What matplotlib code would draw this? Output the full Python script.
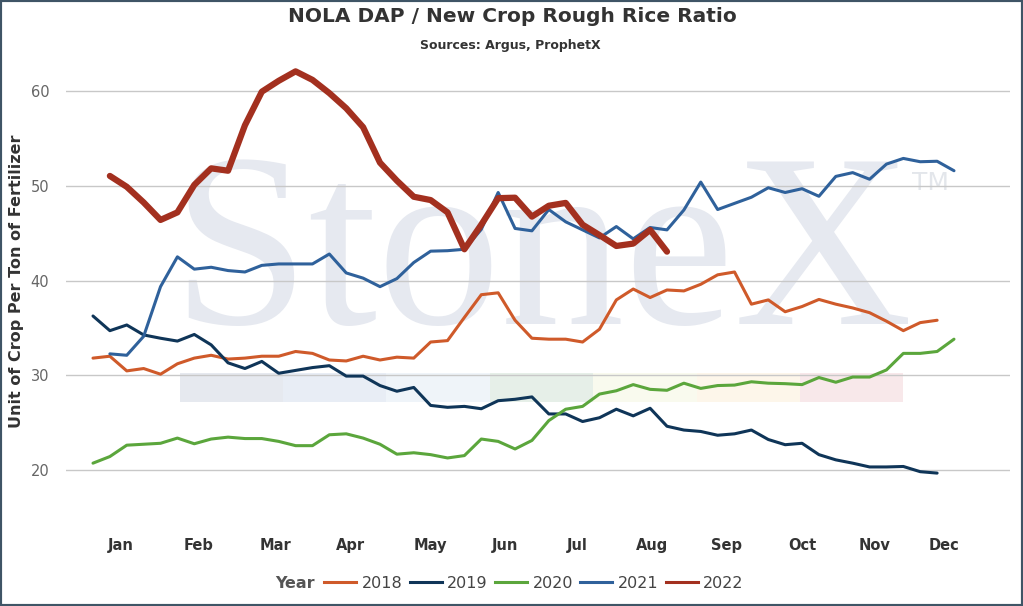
import matplotlib
matplotlib.use("Agg")
import matplotlib.pyplot as plt
from matplotlib.patches import Rectangle
from matplotlib.lines import Line2D

# weekly ratio (week numbers 1..52)
weeks_2018 = list(range(1, 52))
ratio_2018 = [31.8, 32.0, 30.45, 30.7, 30.1, 31.2, 31.8, 32.1, 31.7, 31.8,
              32.0, 32.0, 32.5, 32.3, 31.6, 31.5, 32.0, 31.6, 31.9, 31.8,
              33.5, 33.65, 36.1, 38.5, 38.7, 35.8, 33.9, 33.8, 33.8, 33.5,
              34.85, 37.95, 39.1, 38.2, 39.0, 38.9, 39.6, 40.6, 40.9, 37.5,
              37.95, 36.7, 37.25, 38.0, 37.5, 37.1, 36.6, 35.7, 34.7, 35.55, 35.8]

weeks_2019 = list(range(1, 52))
ratio_2019 = [36.25, 34.7, 35.3, 34.25, 33.9, 33.6, 34.3, 33.2, 31.3, 30.7,
              31.45, 30.2, 30.5, 30.8, 31.0, 29.9, 29.9, 28.9, 28.3, 28.7,
              26.8, 26.6, 26.7, 26.45, 27.3, 27.45, 27.7, 25.9, 25.9, 25.1,
              25.5, 26.4, 25.7, 26.5, 24.6, 24.2, 24.05, 23.65, 23.8, 24.2,
              23.2, 22.65, 22.8, 21.6, 21.05, 20.7, 20.3, 20.3, 20.35, 19.8, 19.65]

weeks_2020 = list(range(1, 53))
ratio_2020 = [20.7, 21.4, 22.6, 22.7, 22.8, 23.35, 22.75, 23.25, 23.45, 23.3,
              23.3, 23.0, 22.55, 22.55, 23.7, 23.8, 23.35, 22.7, 21.65, 21.8,
              21.6, 21.25, 21.5, 23.25, 23.0, 22.2, 23.1, 25.2, 26.4, 26.7,
              28.0, 28.35, 29.0, 28.5, 28.4, 29.15, 28.6, 28.9, 28.95, 29.3,
              29.15, 29.1, 29.0, 29.75, 29.25, 29.8, 29.8, 30.55, 32.3, 32.3,
              32.5, 33.8]

weeks_2021 = list(range(2, 53))
ratio_2021 = [32.25, 32.1, 34.1, 39.35, 42.5, 41.2, 41.4, 41.05, 40.9, 41.6,
              41.75, 41.75, 41.75, 42.8, 40.8, 40.25, 39.35, 40.2, 41.9, 43.1,
              43.15, 43.3, 45.4, 49.3, 45.5, 45.25, 47.5, 46.2, 45.35, 44.5,
              45.7, 44.4, 45.6, 45.35, 47.45, 50.4, 47.5, 48.15, 48.8, 49.8,
              49.3, 49.7, 48.9, 51.0, 51.4, 50.7, 52.3, 52.9, 52.55, 52.6, 51.6]

weeks_2022 = list(range(2, 36))
ratio_2022 = [51.05, 49.9, 48.25, 46.4, 47.2, 50.1, 51.85, 51.6, 56.4, 59.95,
              61.1, 62.1, 61.2, 59.8, 58.2, 56.2, 52.45, 50.55, 48.85, 48.5,
              47.2, 43.3, 45.9, 48.7, 48.75, 46.75, 47.9, 48.2, 45.9, 44.8,
              43.65, 43.9, 45.35, 43.05]

months = ["Jan", "Feb", "Mar", "Apr", "May", "Jun",
          "Jul", "Aug", "Sep", "Oct", "Nov", "Dec"]
month_pos = [2.66, 7.28, 11.84, 16.28, 20.96, 25.4,
             29.7, 34.1, 38.5, 43.0, 47.3, 51.4]
y_ticks = [20, 30, 40, 50, 60]

series = [
    ("2018", weeks_2018, ratio_2018, "#cf5a2a", 2.2),
    ("2019", weeks_2019, ratio_2019, "#0f3558", 2.2),
    ("2020", weeks_2020, ratio_2020, "#5ba63c", 2.2),
    ("2021", weeks_2021, ratio_2021, "#2f619b", 2.2),
    ("2022", weeks_2022, ratio_2022, "#a3301f", 4.5),
]

fig = plt.figure(figsize=(10.23, 6.06), dpi=100)
ax = fig.add_axes([0.0645, 0.142, 0.9225, 0.759])

# StoneX watermark
ax.text(542 / 1023, 1 - 324 / 606, "StoneX", transform=fig.transFigure,
        ha="center", va="baseline", fontsize=178, family="Liberation Serif",
        color="#e6e9f0", zorder=0.1)
ax.text(930 / 1023, 1 - 183 / 606, "TM", transform=fig.transFigure,
        ha="center", va="center", fontsize=18, color="#e3e6eb", zorder=0.1)
bar_cols = ["#e6e9ef", "#e8edf5", "#eff4f9", "#e6efe8", "#f9faee", "#fdf6ea", "#f8e8ea"]
for i, c in enumerate(bar_cols):
    ax.add_patch(Rectangle(((179.6 + i * 103.4) / 1023, 1 - 402 / 606), 103.4 / 1023, 29 / 606,
                           transform=fig.transFigure, facecolor=c, edgecolor="none", zorder=0.2))

handles = []
for name, wk, vals, col, lw in series:
    ax.plot(wk, vals, color=col, lw=lw, zorder=3 if name == "2022" else 2,
            solid_joinstyle="round", solid_capstyle="round")
    handles.append(Line2D([], [], color=col, lw=2.2, label=name))

ax.set_xlim(-0.6, 55.3)
ax.set_ylim(14.7, 63.3)
ax.set_yticks(y_ticks)
ax.set_xticks(month_pos)
ax.set_xticklabels(months, fontweight="bold", color="#333333", fontsize=10.5)
ax.tick_params(axis="x", length=0, pad=13)
ax.tick_params(axis="y", length=0, pad=12, labelcolor="#666666", labelsize=10.5)
ax.grid(axis="y", color="#c8c8c8", lw=1, zorder=0.5)
ax.set_axisbelow(True)
ax.patch.set_alpha(0)
for s in ax.spines.values():
    s.set_visible(False)

fig.text(17 / 1023, 1 - 281 / 606, "Unit of Crop Per Ton of Fertilizer", rotation=90,
         ha="center", va="center", fontsize=11.5, fontweight="bold", color="#333333")
fig.text(512 / 1023, 1 - 17 / 606, "NOLA DAP / New Crop Rough Rice Ratio",
         ha="center", va="center", fontsize=14.5, fontweight="bold", color="#333333")
fig.text(510 / 1023, 1 - 46 / 606, "Sources: Argus, ProphetX",
         ha="center", va="center", fontsize=9, fontweight="bold", color="#333333")

fig.text(295 / 1023, 1 - 583 / 606, "Year", ha="center", va="center",
         fontsize=11.5, fontweight="bold", color="#555555")
fig.legend(handles=handles, loc="center", bbox_to_anchor=(534 / 1023, 1 - 583 / 606),
           ncol=5, frameon=False, fontsize=11.5, handlelength=2.0, handletextpad=0.35,
           columnspacing=0.45, labelcolor="#444444")

fig.add_artist(Rectangle((0, 0), 1, 1, transform=fig.transFigure, fill=False,
                         edgecolor="#3f5566", lw=3))

fig.savefig("out.png", dpi=100)
